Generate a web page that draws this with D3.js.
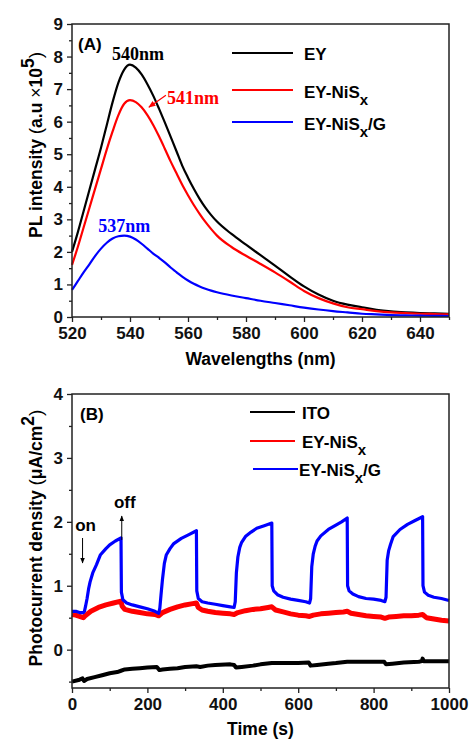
<!DOCTYPE html>
<html><head><meta charset="utf-8">
<script src="https://cdn.jsdelivr.net/npm/d3@7"></script>
<style>
html,body{margin:0;padding:0;background:#fff;}
svg{display:block;}
text{font-family:"Liberation Sans",Arial,sans-serif;font-weight:bold;}
</style></head>
<body>
<svg id="c" width="469" height="741"></svg>
<script>
// ---------- Panel A data ----------
const wavelengths = [520,522,524,526,528,530,532,534,536,538,540,542,544,546,548,550,552,554,556,558,560,562,564,566,568,570,
  575,580,585,590,595,600,605,610,615,620,625,630,635,640,645,650];
const plEY = [2.0,2.6,3.25,3.9,4.55,5.2,5.9,6.6,7.2,7.6,7.75,7.66,7.45,7.15,6.8,6.4,5.98,5.54,5.1,4.65,4.28,3.94,3.63,3.36,3.13,2.93,
  2.55,2.22,1.9,1.58,1.25,0.94,0.69,0.5,0.38,0.3,0.22,0.17,0.14,0.12,0.11,0.1];
const plNiS = [1.6,2.15,2.75,3.35,3.95,4.55,5.15,5.7,6.2,6.55,6.66,6.6,6.44,6.2,5.9,5.55,5.17,4.78,4.42,4.06,3.74,3.44,3.17,2.92,2.7,2.5,
  2.15,1.88,1.63,1.37,1.09,0.8,0.58,0.42,0.3,0.24,0.18,0.14,0.12,0.1,0.09,0.08];
const plNiSG = [0.83,1.1,1.37,1.62,1.88,2.1,2.28,2.41,2.48,2.5,2.47,2.38,2.25,2.1,1.95,1.82,1.68,1.52,1.38,1.24,1.12,1.02,0.94,0.87,0.81,0.76,
  0.66,0.58,0.5,0.43,0.36,0.29,0.23,0.18,0.14,0.1,0.08,0.06,0.05,0.04,0.035,0.03];
const seriesA = ["EY","EY-NiSx","EY-NiSx/G"];
const peakLabels = [{x:540,y:7.75,t:"540nm"},{x:541,y:6.66,t:"541nm"},{x:537,y:2.5,t:"537nm"}];
const xTicksA = [520,540,560,580,600,620,640];
const yTicksA = [0,1,2,3,4,5,6,7,8,9];

// ---------- Panel B data ----------
const ito = [[0,-0.5],[20,-0.47],[28,-0.45],[32,-0.49],[40,-0.46],[60,-0.43],[80,-0.4],[100,-0.37],[120,-0.35],[130,-0.33],[140,-0.31],
  [160,-0.3],[180,-0.29],[200,-0.28],[225,-0.27],[232,-0.32],[240,-0.31],[260,-0.3],[280,-0.29],[300,-0.27],[330,-0.26],[340,-0.27],
  [360,-0.25],[380,-0.24],[420,-0.23],[430,-0.24],[435,-0.28],[450,-0.27],[480,-0.25],[500,-0.23],[530,-0.21],[560,-0.21],[600,-0.21],
  [628,-0.2],[633,-0.25],[650,-0.24],[680,-0.22],[700,-0.21],[730,-0.19],[760,-0.19],[800,-0.19],[828,-0.19],[833,-0.23],[850,-0.22],
  [880,-0.2],[920,-0.19],[928,-0.18],[930,-0.14],[933,-0.18],[960,-0.18],[1000,-0.18]];
const niS = [[0,0.55],[10,0.54],[20,0.52],[30,0.5],[35,0.53],[50,0.6],[70,0.66],[90,0.7],[110,0.73],[130,0.76],[133,0.68],[140,0.63],
  [160,0.6],[180,0.58],[200,0.56],[220,0.55],[230,0.53],[240,0.58],[260,0.63],[280,0.67],[300,0.7],[320,0.72],[330,0.73],[335,0.66],
  [345,0.62],[360,0.6],[380,0.58],[400,0.57],[420,0.56],[430,0.55],[440,0.58],[460,0.61],[480,0.63],[500,0.64],[520,0.66],[530,0.67],
  [540,0.62],[560,0.59],[580,0.56],[600,0.54],[620,0.53],[630,0.52],[640,0.54],[660,0.56],[680,0.57],[700,0.58],[720,0.59],[730,0.6],
  [740,0.57],[760,0.55],[780,0.53],[800,0.52],[820,0.51],[830,0.49],[840,0.51],[860,0.52],[880,0.53],[900,0.53],[920,0.54],[930,0.55],
  [940,0.5],[960,0.48],[980,0.46],[1000,0.45]];
const niSG = [[0,0.6],[10,0.6],[20,0.58],[30,0.58],[33,0.6],[36,0.68],[40,0.8],[44,0.95],[48,1.06],[55,1.2],[65,1.33],[75,1.48],[90,1.58],
  [100,1.64],[115,1.7],[130,1.75],[131,0.9],[135,0.78],[145,0.73],[160,0.7],[180,0.67],[200,0.64],[220,0.6],[230,0.57],
  [233,0.65],[236,0.85],[240,1.1],[245,1.35],[250,1.48],[260,1.58],[270,1.66],[290,1.74],[310,1.8],[330,1.86],
  [331,0.92],[335,0.8],[345,0.75],[360,0.73],[380,0.71],[400,0.69],[420,0.67],[430,0.66],
  [433,0.75],[436,1.2],[440,1.45],[445,1.6],[450,1.68],[460,1.77],[475,1.84],[490,1.9],[510,1.94],[530,1.98],
  [531,1.0],[535,0.92],[545,0.86],[560,0.82],[580,0.79],[600,0.77],[620,0.75],[630,0.73],
  [633,0.8],[636,1.3],[640,1.5],[645,1.62],[650,1.7],[660,1.78],[680,1.88],[700,1.95],[715,2.0],[730,2.06],
  [731,1.0],[735,0.92],[745,0.87],[760,0.83],[780,0.8],[800,0.79],[820,0.77],[830,0.75],
  [833,0.82],[836,1.4],[840,1.55],[845,1.65],[852,1.77],[870,1.88],[890,1.96],[910,2.02],[930,2.08],
  [931,1.0],[935,0.9],[945,0.85],[960,0.82],[980,0.8],[1000,0.77]];
const seriesB = ["ITO","EY-NiSx","EY-NiSx/G"];
const xTicksB = [0,200,400,600,800,1000];
const yTicksB = [0,1,2,3,4];
const onOff = [{t:28,label:"on"},{t:132,label:"off"}];

const svg = d3.select("#c");
const axisColor = "#222";

function frame(g, x, y, xMajor, xMinor, yMajor, yMinor) {
  const [x0,x1] = x.range(); const [y0,y1] = y.range();
  const fmt = d3.format("d");
  const xa = g.append("g").attr("transform",`translate(0,${y0})`)
    .call(d3.axisBottom(x).tickValues(xMinor).tickSize(3).tickFormat(""));
  const xb = g.append("g").attr("transform",`translate(0,${y0})`)
    .call(d3.axisBottom(x).tickValues(xMajor).tickSize(5).tickPadding(5).tickSizeOuter(0).tickFormat(fmt));
  const ya = g.append("g").attr("transform",`translate(${x0},0)`)
    .call(d3.axisLeft(y).tickValues(yMinor).tickSize(3).tickFormat(""));
  const yb = g.append("g").attr("transform",`translate(${x0},0)`)
    .call(d3.axisLeft(y).tickValues(yMajor).tickSize(5).tickPadding(4).tickSizeOuter(0).tickFormat(fmt));
  [xa,xb,ya,yb].forEach(a=>{a.select(".domain").remove();
    a.selectAll("line").attr("stroke",axisColor).attr("stroke-width",1.3);
    a.selectAll("text").attr("fill","#111").style("font-size","17px").style("font-family","Liberation Sans, Arial, sans-serif").style("font-weight","bold");});
  g.append("rect").attr("x",x0).attr("y",y1).attr("width",x1-x0).attr("height",y0-y1)
    .attr("fill","none").attr("stroke",axisColor).attr("stroke-width",1.5);
}

// ================= Panel A =================
const xA = d3.scaleLinear().domain([520,650]).range([72,449]);
const yA = d3.scaleLinear().domain([0,9]).range([317,24]);
const gA = svg.append("g");
const colors = ["#000000","#ff0000","#0000ff"];
const lineA = d3.line().x(d=>xA(d[0])).y(d=>yA(d[1])).curve(d3.curveMonotoneX);
[plEY,plNiS,plNiSG].forEach((vals,i)=>{
  gA.append("path").datum(wavelengths.map((w,j)=>[w,vals[j]]))
    .attr("d",lineA).attr("fill","none").attr("stroke",colors[i]).attr("stroke-width",2.2);
});
frame(gA,xA,yA,xTicksA,d3.range(530,651,20),yTicksA,d3.range(0.5,9,1));

// peak labels
const serif = "Liberation Serif, Times New Roman, serif";
gA.append("text").attr("x",xA(peakLabels[0].x)+8).attr("y",yA(peakLabels[0].y)-5).attr("text-anchor","middle")
  .style("font-family",serif).style("font-size","18px").attr("fill","#000").text(peakLabels[0].t);
gA.append("text").attr("x",xA(peakLabels[1].x)+34).attr("y",yA(peakLabels[1].y)+4).attr("text-anchor","start")
  .style("font-family",serif).style("font-size","18px").attr("fill","#ff0000").text(peakLabels[1].t);
gA.append("text").attr("x",xA(peakLabels[2].x)+3).attr("y",yA(peakLabels[2].y)-4).attr("text-anchor","middle")
  .style("font-family",serif).style("font-size","18px").attr("fill","#0000ff").text(peakLabels[2].t);
// red arrow
const defs = svg.append("defs");
function marker(id,color){
  defs.append("marker").attr("id",id).attr("viewBox","0 0 10 10").attr("refX",9).attr("refY",5)
    .attr("markerWidth",6).attr("markerHeight",6).attr("orient","auto")
    .append("path").attr("d","M0,1 L10,5 L0,9 Z").attr("fill",color);
}
marker("ar","#ff0000"); marker("ak","#000");
gA.append("line").attr("x1",xA(541)+33).attr("y1",yA(6.66)-5).attr("x2",xA(541)+16).attr("y2",yA(6.66)+7)
  .attr("stroke","#ff0000").attr("stroke-width",1.2).attr("marker-end","url(#ar)");

gA.append("text").attr("x",78).attr("y",50).style("font-size","17px").text("(A)");

// legend A
const legA = [{y:53,ty:60},{y:90,ty:98},{y:122,ty:130}];
seriesA.forEach((s,i)=>{
  gA.append("line").attr("x1",232).attr("x2",293).attr("y1",legA[i].y).attr("y2",legA[i].y)
    .attr("stroke",colors[i]).attr("stroke-width",2.2);
  const t = gA.append("text").attr("x",304).attr("y",legA[i].ty).style("font-size","17px");
  if (s==="EY") t.text("EY");
  else {
    t.append("tspan").text("EY-NiS");
    t.append("tspan").attr("dy",7).style("font-size","15px").text("x");
    if (s.endsWith("/G")) t.append("tspan").attr("dy",-7).text("/G");
  }
});

// axis titles A
gA.append("text").attr("x",(72+449)/2).attr("y",365).attr("text-anchor","middle").style("font-size","17.5px").text("Wavelengths (nm)");
const ylA = gA.append("text").attr("transform","translate(42,145) rotate(-90)").attr("text-anchor","middle").style("font-size","17.5px");
ylA.append("tspan").text("PL intensity ");
ylA.append("tspan").style("font-weight","normal").style("font-size","19px").text("(");
ylA.append("tspan").text("a.u ");
ylA.append("tspan").style("font-weight","normal").text("×");
ylA.append("tspan").text("10");
ylA.append("tspan").attr("dy",-8).text("5");
ylA.append("tspan").attr("dy",8).style("font-weight","normal").style("font-size","19px").text(")");

// ================= Panel B =================
const xB = d3.scaleLinear().domain([0,1000]).range([72,449]);
const yB = d3.scaleLinear().domain([-0.6,4]).range([688,394]);
const gB = svg.append("g");
const lineB = d3.line().x(d=>xB(d[0])).y(d=>yB(d[1]));
gB.append("path").datum(ito).attr("d",lineB).attr("fill","none").attr("stroke","#000").attr("stroke-width",4).attr("stroke-linejoin","round");
gB.append("path").datum(niS).attr("d",lineB).attr("fill","none").attr("stroke","#ff0000").attr("stroke-width",5).attr("stroke-linejoin","round");
gB.append("path").datum(niSG).attr("d",lineB).attr("fill","none").attr("stroke","#0000ff").attr("stroke-width",3.2).attr("stroke-linejoin","round");
frame(gB,xB,yB,xTicksB,d3.range(100,1000,200),yTicksB,[-0.5,0.5,1.5,2.5,3.5]);

gB.append("text").attr("x",80).attr("y",420).style("font-size","17px").text("(B)");
// on/off arrows
gB.append("text").attr("x",xB(onOff[0].t)+3).attr("y",531).attr("text-anchor","middle").style("font-size","17px").text("on");
gB.append("line").attr("x1",xB(onOff[0].t)).attr("x2",xB(onOff[0].t)).attr("y1",538).attr("y2",563)
  .attr("stroke","#000").attr("stroke-width",1).attr("marker-end","url(#ak)");
gB.append("text").attr("x",xB(onOff[1].t)+3).attr("y",508).attr("text-anchor","middle").style("font-size","17px").text("off");
gB.append("line").attr("x1",xB(onOff[1].t)).attr("x2",xB(onOff[1].t)).attr("y1",540).attr("y2",516)
  .attr("stroke","#000").attr("stroke-width",1).attr("marker-end","url(#ak)");

// legend B
const legB = [{y:412,ty:419,x1:250,x2:295,tx:302},{y:441,ty:448,x1:250,x2:295,tx:302},{y:469,ty:476,x1:253,x2:298,tx:299}];
seriesB.forEach((s,i)=>{
  gB.append("line").attr("x1",legB[i].x1).attr("x2",legB[i].x2).attr("y1",legB[i].y).attr("y2",legB[i].y)
    .attr("stroke",colors[i]).attr("stroke-width",2.2);
  const t = gB.append("text").attr("x",legB[i].tx).attr("y",legB[i].ty).style("font-size","17px");
  if (s==="ITO") t.text("ITO");
  else {
    t.append("tspan").text("EY-NiS");
    t.append("tspan").attr("dy",7).style("font-size","15px").text("x");
    if (s.endsWith("/G")) t.append("tspan").attr("dy",-7).text("/G");
  }
});

gB.append("text").attr("x",(72+449)/2).attr("y",735).attr("text-anchor","middle").style("font-size","17.5px").text("Time (s)");
const ylB = gB.append("text").attr("transform","translate(42,538) rotate(-90)").attr("text-anchor","middle").style("font-size","17.5px");
ylB.append("tspan").text("Photocurrent density ");
ylB.append("tspan").style("font-weight","normal").style("font-size","19px").text("(");
ylB.append("tspan").text("μA/cm");
ylB.append("tspan").attr("dy",-8).text("2");
ylB.append("tspan").attr("dy",8).style("font-weight","normal").style("font-size","19px").text(")");
</script>
</body></html>
